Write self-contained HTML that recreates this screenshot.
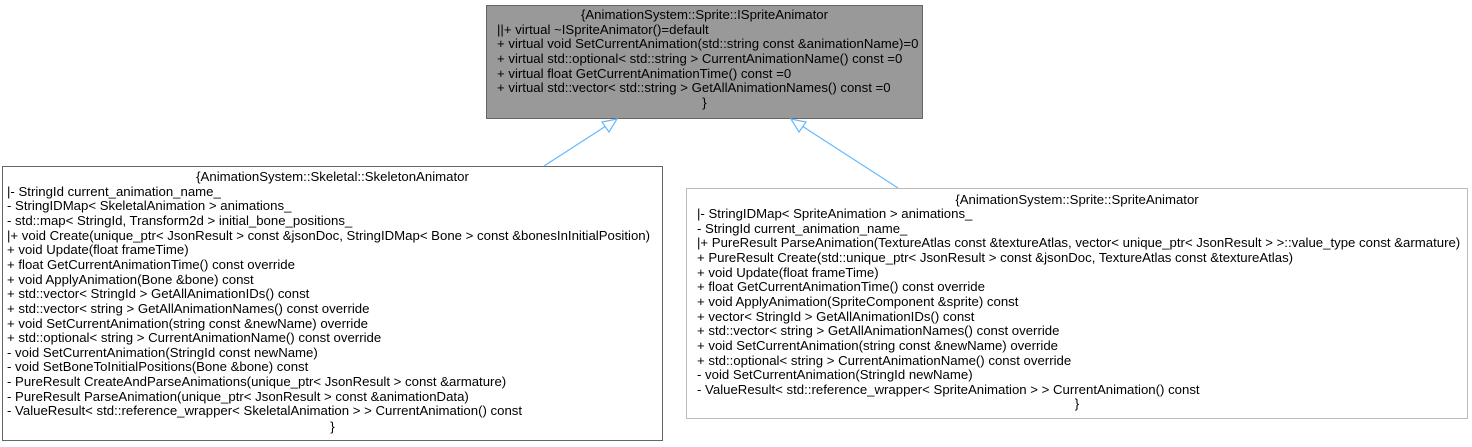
<!DOCTYPE html>
<html><head><style>
body{margin:0;width:1472px;height:447px;background:#fff;position:relative;overflow:hidden;font-family:"Liberation Sans",Arial,sans-serif;font-size:13.2px;color:#000}
.b{position:absolute;box-sizing:border-box;border:1px solid #666}
.t{position:absolute;white-space:pre;line-height:14.65px}
.c{text-align:center;left:0;right:0}
</style></head><body>
<div class="b" style="left:486px;top:5px;width:437px;height:114px;background:#999"></div>
<div class="t c" style="left:486px;width:437px;top:8px">{AnimationSystem::Sprite::ISpriteAnimator</div>
<div class="t" style="left:497px;top:22.6px">||+ virtual ~ISpriteAnimator()=default
+ virtual void SetCurrentAnimation(std::string const &amp;animationName)=0
+ virtual std::optional&lt; std::string &gt; CurrentAnimationName() const =0
+ virtual float GetCurrentAnimationTime() const =0
+ virtual std::vector&lt; std::string &gt; GetAllAnimationNames() const =0</div>
<div class="t c" style="left:486px;width:437px;top:96px">}</div>

<div class="b" style="left:2px;top:166px;width:661px;height:275px"></div>
<div class="t c" style="left:2px;width:661px;top:170px">{AnimationSystem::Skeletal::SkeletonAnimator</div>
<div class="t" style="left:7px;top:184.6px">|- StringId current_animation_name_
- StringIDMap&lt; SkeletalAnimation &gt; animations_
- std::map&lt; StringId, Transform2d &gt; initial_bone_positions_
|+ void Create(unique_ptr&lt; JsonResult &gt; const &amp;jsonDoc, StringIDMap&lt; Bone &gt; const &amp;bonesInInitialPosition)
+ void Update(float frameTime)
+ float GetCurrentAnimationTime() const override
+ void ApplyAnimation(Bone &amp;bone) const
+ std::vector&lt; StringId &gt; GetAllAnimationIDs() const
+ std::vector&lt; string &gt; GetAllAnimationNames() const override
+ void SetCurrentAnimation(string const &amp;newName) override
+ std::optional&lt; string &gt; CurrentAnimationName() const override
- void SetCurrentAnimation(StringId const newName)
- void SetBoneToInitialPositions(Bone &amp;bone) const
- PureResult CreateAndParseAnimations(unique_ptr&lt; JsonResult &gt; const &amp;armature)
- PureResult ParseAnimation(unique_ptr&lt; JsonResult &gt; const &amp;animationData)
- ValueResult&lt; std::reference_wrapper&lt; SkeletalAnimation &gt; &gt; CurrentAnimation() const</div>
<div class="t c" style="left:2px;width:661px;top:419.5px">}</div>

<div class="b" style="left:686px;top:188px;width:782px;height:231px;border-color:#bbb"></div>
<div class="t c" style="left:686px;width:782px;top:192.5px">{AnimationSystem::Sprite::SpriteAnimator</div>
<div class="t" style="left:697px;top:207px">|- StringIDMap&lt; SpriteAnimation &gt; animations_
- StringId current_animation_name_
|+ PureResult ParseAnimation(TextureAtlas const &amp;textureAtlas, vector&lt; unique_ptr&lt; JsonResult &gt; &gt;::value_type const &amp;armature)
+ PureResult Create(std::unique_ptr&lt; JsonResult &gt; const &amp;jsonDoc, TextureAtlas const &amp;textureAtlas)
+ void Update(float frameTime)
+ float GetCurrentAnimationTime() const override
+ void ApplyAnimation(SpriteComponent &amp;sprite) const
+ vector&lt; StringId &gt; GetAllAnimationIDs() const
+ std::vector&lt; string &gt; GetAllAnimationNames() const override
+ void SetCurrentAnimation(string const &amp;newName) override
+ std::optional&lt; string &gt; CurrentAnimationName() const override
- void SetCurrentAnimation(StringId newName)
- ValueResult&lt; std::reference_wrapper&lt; SpriteAnimation &gt; &gt; CurrentAnimation() const</div>
<div class="t c" style="left:686px;width:782px;top:397px">}</div>

<svg width="1472" height="447" style="position:absolute;left:0;top:0">
<g stroke="#63b8ff" stroke-width="1.2" fill="#fff">
<line x1="544" y1="166" x2="606" y2="126"/>
<polygon points="617,119 602,122 609,132"/>
<line x1="898" y1="188" x2="802" y2="126"/>
<polygon points="791,119 799,132 806,122"/>
</g>
</svg>
</body></html>
